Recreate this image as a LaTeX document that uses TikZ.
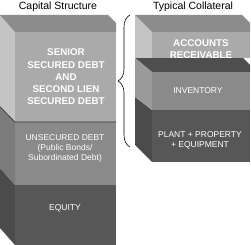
\documentclass[tikz,border=0pt]{standalone}
\usepackage{fontspec}
\setmainfont{Liberation Sans}
\usetikzlibrary{decorations.pathreplacing}
\definecolor{csPale}{HTML}{C4C4C4}
\definecolor{csLight}{HTML}{AAAAAA}
\definecolor{csTop}{HTML}{8C8C8C}
\definecolor{csMid}{HTML}{8A8A8A}
\definecolor{csSide}{HTML}{7B7B7B}
\definecolor{csSoft}{HTML}{9A9A9A}
\definecolor{csDark}{HTML}{575757}
\definecolor{csDeep}{HTML}{4B4B4B}
\definecolor{csEdge}{HTML}{3C3C3C}
\definecolor{csShelf}{HTML}{4E4E4E}
\tikzset{
  cs diagram/.style={x=1pt, y=-1pt, line join=round},
  cs title/.style={font=\fontsize{10.5}{12}\selectfont, text=black},
  cs key text/.style={font=\bfseries\fontsize{9.8}{12.3}\selectfont,
    text=white, align=center},
  cs text/.style={font=\fontsize{8.5}{10}\selectfont, text=white,
    align=center},
  cs seam/.style={draw=csEdge, line width=1pt},
  cs brace/.style={draw=black, line width=0.6pt, decorate,
    decoration={brace, amplitude=12pt}}
}
\begin{document}
\begin{tikzpicture}[cs diagram]
\useasboundingbox (0,0) rectangle (251,245);
% capital structure stack
\fill[csDeep] (0,168) -- (15,185) -- (15,245) -- (0,228) -- cycle;
\fill[csDark] (15,185) rectangle (116,245);
\fill[csSide] (0,106) -- (15,122) -- (15,185) -- (0,168) -- cycle;
\fill[csMid] (15,122) rectangle (116,185);
\draw[cs seam] (0,106.5) -- (15,122) -- (116,122);
\fill[csPale] (0,15) -- (15,32) -- (15,121) -- (0,106) -- cycle;
\fill[csTop] (0,15) -- (108,15) -- (116,23) -- (116,32) -- (15,32) -- cycle;
\fill[csLight] (15,32) rectangle (116,121);
% collateral stack
\fill[csDeep] (135,97) -- (152,110) -- (152,162) -- (135,145) -- cycle;
\fill[csDark] (152,110) rectangle (250,162);
\fill[csShelf] (135,58) -- (243,58) -- (250,65) -- (250,72) -- (152,72) -- cycle;
\fill[csSoft] (135,58) -- (152,72) -- (152,110) -- (135,97) -- cycle;
\fill[csMid] (152,72) rectangle (250,110);
\fill[csPale] (135,15) -- (152,32) -- (152,58) -- (135,58) -- cycle;
\fill[csTop] (135,15) -- (242,15) -- (250,23) -- (250,32) -- (152,32) -- cycle;
\fill[csLight] (152,32) rectangle (250,58);

\node[cs title] (capital) at (58,7) {Capital Structure};
\node[cs title] (collateral) at (193,7) {Typical Collateral};
\node[cs key text] (senior) at (66,77) {SENIOR\\SECURED DEBT\\AND\\SECOND LIEN\\SECURED DEBT};
\node[cs text] (unsecured) at (65,148) {UNSECURED DEBT\\(Public Bonds/\\Subordinated Debt)};
\node[cs text] (equity) at (65,208) {EQUITY};
\node[cs key text] (receivable) at (201,49) {ACCOUNTS\\RECEIVABLE};
\node[cs text] (inventory) at (198,91) {INVENTORY};
\node[cs text] (plant) at (200,140) {PLANT + PROPERTY\\+ EQUIPMENT};

\coordinate (brace bottom) at (130,147);
\coordinate (brace top) at (130,15);
\draw[cs brace] (brace bottom) -- (brace top);
\end{tikzpicture}
\end{document}
